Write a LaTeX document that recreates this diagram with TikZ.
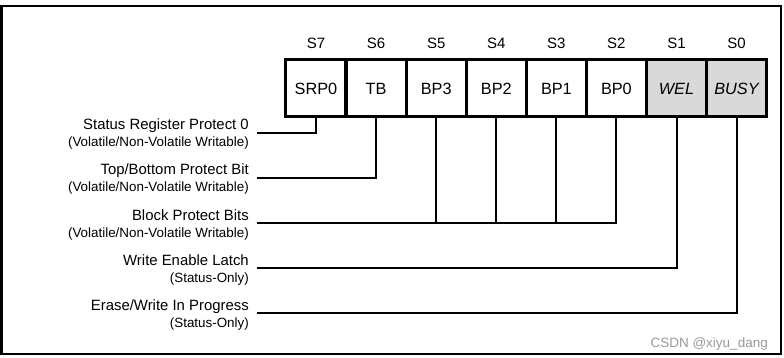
\documentclass[tikz,border=0pt]{standalone}
\usepackage{fontspec}
\setmainfont{Liberation Sans}
\definecolor{bitgrey}{RGB}{217,217,217}
\begin{document}
\begin{tikzpicture}[x=1pt,y=-1pt,
  bit/.style={draw, line width=3pt, minimum width=60.06pt, minimum height=57pt,
    inner sep=0pt, outer sep=0pt, font=\fontsize{16.3}{18}\selectfont},
  robit/.style={bit, fill=bitgrey, font=\fontsize{16.3}{18}\selectfont\itshape},
  bitlab/.style={inner sep=0pt, font=\fontsize{15}{16}\selectfont},
  mainlab/.style={inner sep=0pt, anchor=base east, font=\fontsize{14.9}{16}\selectfont},
  sublab/.style={inner sep=0pt, anchor=base east, font=\fontsize{13.4}{15}\selectfont},
  wire/.style={line width=2pt},
  frame/.style={line width=2.6pt}]
\useasboundingbox (0,0) rectangle (784,358);
\draw[frame] (1.5,6) rectangle (781,354);

% bit labels
\node[bitlab] (n7) at (316,43.5) {S7};
\node[bitlab] (n6) at (376,43.5) {S6};
\node[bitlab] (n5) at (436.2,43.5) {S5};
\node[bitlab] (n4) at (496.3,43.5) {S4};
\node[bitlab] (n3) at (556.4,43.5) {S3};
\node[bitlab] (n2) at (616.4,43.5) {S2};
\node[bitlab] (n1) at (676.5,43.5) {S1};
\node[bitlab] (n0) at (736.5,43.5) {S0};

% text labels
\node[mainlab] (t1) at (249,130) {Status Register Protect 0};
\node[sublab]  (u1) at (249,147) {(Volatile/Non-Volatile Writable)};
\node[mainlab] (t2) at (249,175) {Top/Bottom Protect Bit};
\node[sublab]  (u2) at (249,192) {(Volatile/Non-Volatile Writable)};
\node[mainlab] (t3) at (249,220) {Block Protect Bits};
\node[sublab]  (u3) at (249,237) {(Volatile/Non-Volatile Writable)};
\node[mainlab] (t4) at (249,265) {Write Enable Latch};
\node[sublab]  (u4) at (249,282) {(Status-Only)};
\node[mainlab] (t5) at (249,310) {Erase/Write In Progress};
\node[sublab]  (u5) at (249,327) {(Status-Only)};

\coordinate (e1) at (257,133);
\coordinate (e2) at (257,178);
\coordinate (e3) at (257,223);
\coordinate (e4) at (257,268);
\coordinate (e5) at (257,313);

% register boxes
\node[bit] (s7) at (316,88.5) {SRP0};
\node[bit] (s6) at (376,88.5) {TB};
\node[bit] (s5) at (436.2,88.5) {BP3};
\node[bit] (s4) at (496.3,88.5) {BP2};
\node[bit] (s3) at (556.4,88.5) {BP1};
\node[bit] (s2) at (616.4,88.5) {BP0};
\node[robit] (s1) at (676.5,88.5) {WEL};
\node[robit] (s0) at (736.5,88.5) {BUSY};

% connectors
\draw[wire] (s7.south) |- (e1);
\draw[wire] (s6.south) |- (e2);
\draw[wire] (s2.south) |- (e3);
\foreach \n in {s5,s4,s3} \draw[wire] (\n.south) -- (\n.south |- e3);
\draw[wire] (s1.south) |- (e4);
\draw[wire] (s0.south) |- (e5);

% redraw box borders on top of the connectors
\foreach \n in {s7,s6,s5,s4,s3,s2,s1,s0} \draw[line width=3pt] (\n.south west) rectangle (\n.north east);

\node[inner sep=0pt, anchor=base east, text=black!40, font=\fontsize{13.5}{15}\selectfont] (wm) at (768,347) {CSDN @xiyu\_dang};
\end{tikzpicture}
\end{document}
